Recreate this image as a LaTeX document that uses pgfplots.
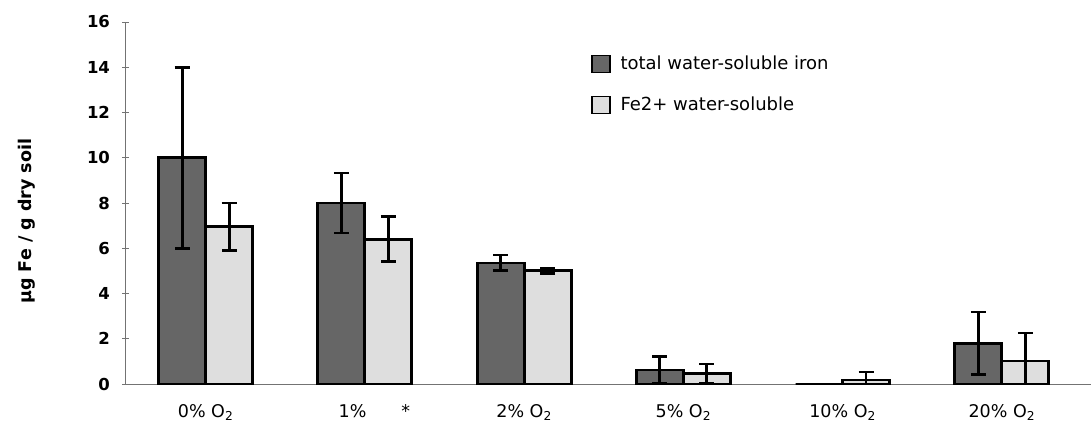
\documentclass[border=0pt]{standalone}
\usepackage{fontspec}
\setmainfont{DejaVu Sans}
\usepackage{pgfplots}
\pgfplotsset{compat=1.18}

\definecolor{darkbar}{gray}{0.4}
\definecolor{lightbar}{gray}{0.87}
\definecolor{axisgray}{gray}{0.45}

\pgfplotsset{
  errstyle/.style={
    error bars/y dir=both, error bars/y explicit,
    error bars/error bar style={line width=2.8pt, black},
    error bars/error mark options={rotate=90, mark size=7.5pt, line width=2.8pt, black},
  }
}

\begin{document}
\begin{tikzpicture}
\begin{axis}[
    scale only axis,
    width=965pt, height=362pt,
    ybar, bar width=47pt,
    xmin=-0.5, xmax=5.56,
    ymin=0, ymax=16,
    ytick={0,2,...,16},
    xtick={0,1,2,3,4,5},
    xticklabels={0\% O\textsubscript{2}, \hspace{1.1em}1\%\hspace{2em}*, 2\% O\textsubscript{2}, 5\% O\textsubscript{2}, 10\% O\textsubscript{2}, 20\% O\textsubscript{2}},
    x tick style={draw=none},
    y tick style={axisgray, line width=0.9pt},
    tick align=outside,
    major tick length=7pt,
    axis x line=bottom, axis y line=left,
    axis line style={-, axisgray, line width=1pt},
    /pgf/number format/assume math mode=true,
    xticklabel style={yshift=-13pt, font=\fontsize{17.5}{19}\selectfont},
    yticklabel style={xshift=-9pt, font=\fontsize{16.5}{18}\selectfont\bfseries},
    every axis y label/.style={at={(rel axis cs:0,0.45)}, xshift=-99pt, rotate=90, anchor=center},
    ylabel={\bfseries µg Fe / g dry soil},
    label style={font=\fontsize{17.5}{19}\selectfont},
    legend cell align=left,
    legend style={at={(rel axis cs:0.482,0.912)}, anchor=north west, draw=none,
        font=\fontsize{18}{20}\selectfont, row sep=22pt, inner sep=0pt,
        /tikz/every odd column/.append style={column sep=8pt}},
    legend image code/.code={\draw[#1, line width=1.2pt] (0pt,-8.5pt) rectangle (18pt,8.5pt);},
]
\addplot[fill=darkbar, draw=black, line width=2.8pt, bar shift=-23.5pt, errstyle]
  coordinates {
    (0,10.0) +- (0,4.0)
    (1,8.0)  +- (0,1.33)
    (2,5.35) +- (0,0.35)
    (3,0.62) +- (0,0.6)
    (4,0.0)  +- (0,0.0)
    (5,1.8)  +- (0,1.38)
  };
\addplot[fill=lightbar, draw=black, line width=2.8pt, bar shift=23.5pt, errstyle]
  coordinates {
    (0,6.95) +- (0,1.05)
    (1,6.4)  +- (0,1.0)
    (2,5.0)  +- (0,0.1)
    (3,0.45) +- (0,0.43)
    (4,0.18) +- (0,0.35)
    (5,1.02) +- (0,1.23)
  };
\legend{total water-soluble iron, Fe2+ water-soluble}
\end{axis}
\pgfresetboundingbox
\path ([xshift=-126pt,yshift=-52pt]current axis.south west) rectangle ([yshift=22pt]current axis.north east);
\end{tikzpicture}
\end{document}
